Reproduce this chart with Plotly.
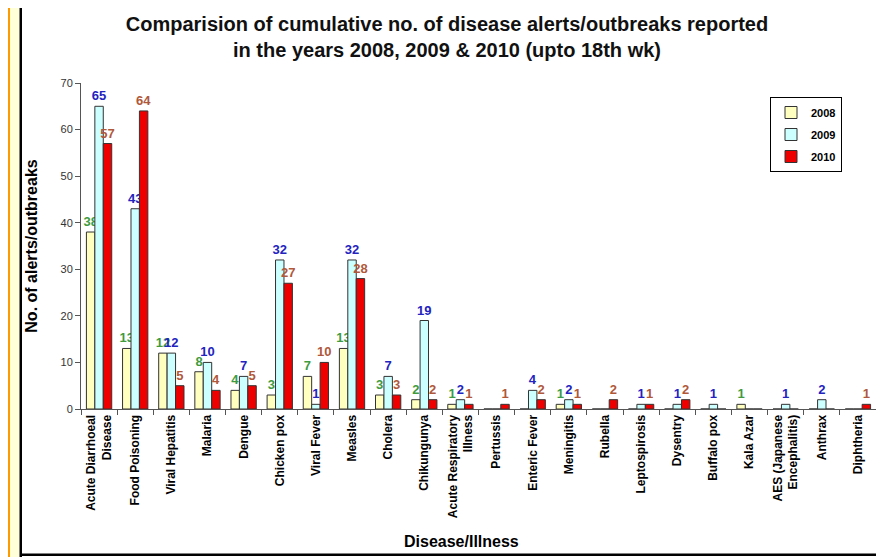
import plotly.graph_objects as go

categories = [
    "Acute Diarrhoeal<br>Disease", "Food Poisoning", "Viral Hepatitis", "Malaria", "Dengue",
    "Chicken pox", "Viral Fever", "Measles", "Cholera", "Chikungunya",
    "Acute Respiratory<br>Illness", "Pertussis", "Enteric Fever", "Meningitis", "Rubella",
    "Leptospirosis", "Dysentry", "Buffalo pox", "Kala Azar", "AES (Japanese<br>Encephalitis)",
    "Anthrax", "Diphtheria",
]
y2008 = [38, 13, 12, 8, 4, 3, 7, 13, 3, 2, 1, 0, 0, 1, 0, 0, 0, 0, 1, 0, 0, 0]
y2009 = [65, 43, 12, 10, 7, 32, 1, 32, 7, 19, 2, 0, 4, 2, 0, 1, 1, 1, 0, 1, 2, 0]
y2010 = [57, 64, 5, 4, 5, 27, 10, 28, 3, 2, 1, 1, 2, 1, 2, 1, 2, 0, 0, 0, 0, 1]
series_names = ["2008", "2009", "2010"]

# page has an 8px body margin; figure pixel = reference pixel - OFF
OFF = 8
W, H = 884 - OFF, 557 - OFF
L, R, T, B = 81 - OFF, 876 - OFF, 83 - OFF, 409 - OFF


def px(x):
    return (x - OFF - L) / (R - L)


def py(y):
    return (B - (y - OFF)) / (B - T)


fills = ["#ffffc0", "#ccffff", "#ee0000"]
label_colors = ["#3f9b3f", "#2323c0", "#b0583a"]

fig = go.Figure()
for i, (name, vals) in enumerate(zip(series_names, [y2008, y2009, y2010])):
    fig.add_trace(go.Bar(
        x=categories, y=vals, name=name,
        marker=dict(color=fills[i], line=dict(color="#333333", width=1)),
        text=[str(v) if v else "" for v in vals],
        textposition="outside",
        constraintext="none",
        textfont=dict(family="Arial", size=13, color=label_colors[i], weight="bold"),
        cliponaxis=False,
        legendgroup=name,
    ))

shapes = [
    dict(type="rect", xref="paper", yref="paper", x0=px(0), x1=px(4), y0=py(0), y1=py(557),
         fillcolor="#c8ffd8", line=dict(width=0), layer="below"),
    dict(type="rect", xref="paper", yref="paper", x0=px(4), x1=px(10), y0=py(0), y1=py(557),
         fillcolor="#ff9900", line=dict(width=0), layer="below"),
    dict(type="rect", xref="paper", yref="paper", x0=px(10), x1=px(19.5), y0=py(0), y1=py(557),
         fillcolor="#ffffd8", line=dict(width=0), layer="below"),
    dict(type="rect", xref="paper", yref="paper", x0=px(19.5), x1=px(22), y0=py(0), y1=py(557),
         fillcolor="#000000", line=dict(width=0), layer="below"),
    dict(type="rect", xref="paper", yref="paper", x0=px(20), x1=px(884), y0=py(5), y1=py(7.5),
         fillcolor="#000000", line=dict(width=0), layer="below"),
    dict(type="rect", xref="paper", yref="paper", x0=px(20), x1=px(884), y0=py(553.5), y1=py(556),
         fillcolor="#000000", line=dict(width=0), layer="below"),
]

fig.update_layout(
    width=W, height=H,
    margin=dict(l=L, r=W - R, t=T, b=H - B),
    paper_bgcolor="white", plot_bgcolor="white",
    barmode="group", bargap=0.3, bargroupgap=0,
    shapes=shapes,
    title=dict(
        text="Comparision of cumulative no. of disease alerts/outbreaks reported<br>in the years 2008, 2009 &amp; 2010 (upto 18th wk)",
        xref="paper", x=px(447), xanchor="center",
        yref="container", y=1 - (31 - OFF) / H, yanchor="middle",
        font=dict(family="Arial", size=20, color="#111111", weight="bold"),
    ),
    legend=dict(
        x=px(770), y=py(97), xanchor="left", yanchor="top",
        bordercolor="#000000", borderwidth=1, bgcolor="white",
        font=dict(family="Arial", size=11, color="black", weight="bold"),
        tracegroupgap=3, itemwidth=30,
    ),
    showlegend=True,
    annotations=[dict(
        text="Disease/Illness", xref="paper", yref="paper", x=px(461), y=py(541),
        showarrow=False, font=dict(family="Arial", size=16, color="black", weight="bold"),
        xanchor="center", yanchor="middle",
    )],
)

fig.update_xaxes(
    showline=True, linecolor="#555555", linewidth=1,
    ticks="outside", ticklen=5, tickcolor="#555555", tickson="boundaries",
    tickangle=-90,
    tickfont=dict(family="Arial", size=12, color="black", weight="bold"),
)
fig.update_yaxes(
    range=[0, 70], dtick=10, showgrid=False, zeroline=False,
    showline=True, linecolor="#555555", linewidth=1,
    ticks="outside", ticklen=5, tickcolor="#555555",
    tickfont=dict(family="Arial", size=11, color="#333333"),
    title=dict(text="No. of alerts/outbreaks", standoff=18,
               font=dict(family="Arial", size=16, color="black", weight="bold")),
)

fig.write_html("out.html")
